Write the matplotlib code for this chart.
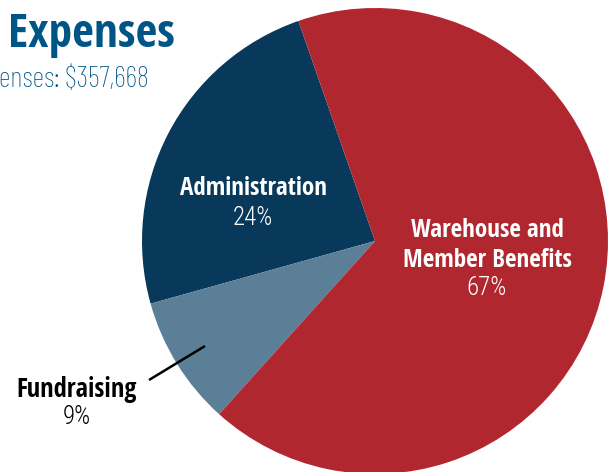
import matplotlib
matplotlib.use("Agg")
import matplotlib.pyplot as plt

# data
categories = ["Administration", "Fundraising", "Warehouse and\nMember Benefits"]
shares = [24, 9, 67]
colors = ["#08385a", "#5b7f96", "#b1272f"]
title = "Expenses"
subtitle = "Total Expenses: $357,668"

W, H = 611, 472
BOLD = ["Open Sans Condensed", "DejaVu Sans"]
LIGHT = ["Roboto Condensed", "DejaVu Sans"]
NARROW = ["Barlow Condensed", "Roboto Condensed", "DejaVu Sans"]

fig = plt.figure(figsize=(W / 100, H / 100), dpi=100)
ax = fig.add_axes([0, 0, 1, 1])

# pie centre / radius in pixel units (y measured from bottom)
ax.pie(shares, colors=colors, startangle=109.2, counterclock=True,
       center=(375, H - 241), radius=233, frame=True,
       wedgeprops=dict(linewidth=0))
ax.set_xlim(0, W)
ax.set_ylim(0, H)
ax.set_aspect("equal")
ax.axis("off")


def label(x, y, s, color, bold=False, size=18):
    ax.text(x, H - y, s, color=color, fontsize=size,
            family=BOLD if bold else LIGHT,
            fontweight="bold" if bold else "light",
            ha="center", va="baseline")


# slice labels (y = baseline in pixels from top)
label(253, 195, categories[0], "white", bold=True)
label(253, 225, f"{shares[0]}%", "white")

top, bottom = categories[2].split("\n")
label(487, 237, top, "white", bold=True)
label(487, 267, bottom, "white", bold=True)
label(487, 295, f"{shares[2]}%", "white")

label(77, 397, categories[1], "black", bold=True, size=19)
label(77, 424, f"{shares[1]}%", "black")
ax.plot([149, 205], [H - 380, H - 346], color="black", linewidth=1.8,
        solid_capstyle="butt")

# heading (cropped at the left edge in the source)
ax.text(8, H - 47, title, color="#005587", fontsize=34, family=BOLD,
        fontweight="bold", ha="left", va="baseline")
ax.text(149, H - 87, subtitle, color="#005587", fontsize=21, family=NARROW,
        fontweight="light", ha="right", va="baseline")

fig.savefig("out.png", dpi=100)
